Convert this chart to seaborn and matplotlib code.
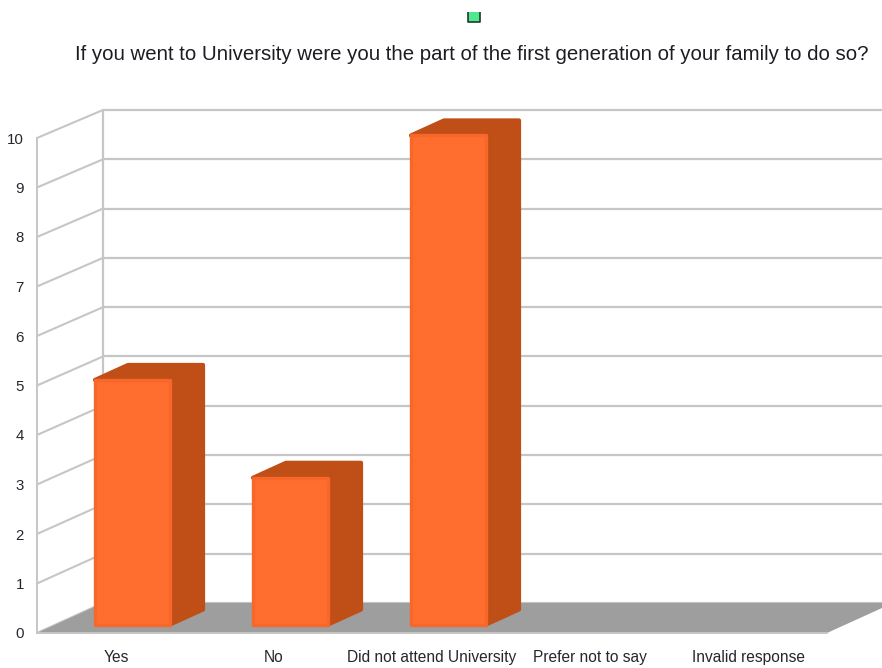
import matplotlib
matplotlib.use("Agg")
import matplotlib.pyplot as plt
import seaborn as sns
import pandas as pd
from matplotlib.lines import Line2D
from matplotlib.patches import Polygon, Rectangle
from matplotlib.transforms import Affine2D, Bbox, IdentityTransform

title = "If you went to University were you the part of the first generation of your family to do so?"
categories = ["Yes", "No", "Did not attend University", "Prefer not to say", "Invalid response"]
values = [5, 3, 10, 0, 0]
y_ticks = list(range(0, 11))

FACE = "#ff6d2f"
EDGE = "#f66729"
DARK = "#c04e17"
FLOOR = "#9e9e9e"
GRID = "#c6c6c6"
TEXT = "#262630"

sns.set_theme(style="white")
plt.rcParams["font.family"] = ["Liberation Sans", "DejaVu Sans"]

W, H = 882, 668
fig = plt.figure(figsize=(W / 100, H / 100), dpi=100, facecolor="white")
ax = fig.add_axes([37 / W, 35 / H, 790 / W, 495 / H])
ax.set_facecolor("none")

df = pd.DataFrame({"category": categories, "value": values})
sns.barplot(data=df, x="category", y="value", order=categories, color=FACE,
            saturation=1, width=0.475, ax=ax, zorder=6, legend=False)
ax.set_xlim(-0.5, 4.5)
ax.set_ylim(0, 10)
ax.set_xlabel("")
ax.set_ylabel("")
ax.set_yticks(y_ticks)
for s in ax.spines.values():
    s.set_visible(False)
ax.tick_params(axis="y", length=0, pad=9.5, labelsize=10.8, labelcolor=TEXT)
ax.tick_params(axis="x", length=0, pad=12, labelsize=11.2, labelcolor=TEXT)
fig.canvas.draw()


def plane(depth, k=1.0, lift=0.0):
    """Data transform of a plane `depth` of the way from front to back of the box."""
    return ax.transData + Affine2D().translate(0, -35).scale(1, k).translate(
        66 * depth, 35 + 30 * depth + lift)


front, back = plane(0), plane(1, 0.996)
bar_f, bar_b = plane(0.25, 0.988, 1.0), plane(0.75, 0.988, 1.0)
identity = IdentityTransform()

# back wall grid lines
ax.hlines(y_ticks, -0.5, 4.5, colors=GRID, lw=1.6, transform=back, clip_on=False, zorder=1)
# side wall lines
for v in y_ticks:
    p0, p1 = front.transform((-0.5, v)), back.transform((-0.5, v))
    ax.add_line(Line2D([p0[0], p1[0]], [p0[1], p1[1]], color=GRID, lw=1.5,
                       transform=identity, clip_on=False, zorder=1))
# wall edges
ax.plot([-0.5, -0.5], [0, 10], color=GRID, lw=1.4, transform=front, clip_on=False, zorder=2)
ax.plot([-0.5, -0.5], [0, 10], color=GRID, lw=1.6, transform=back, clip_on=False, zorder=2)

# floor
corners = [front.transform((-0.5, 0)), back.transform((-0.5, 0)),
           back.transform((4.5, 0)), front.transform((4.5, 0))]
ax.add_patch(Polygon(corners, closed=True, facecolor=FLOOR, edgecolor="none",
                     transform=identity, clip_on=False, zorder=3))
ax.plot([-0.5, 4.5], [0, 0], color=GRID, lw=1.4, transform=front, clip_on=False, zorder=4)

# bars: depth faces behind, seaborn front face on top
for bar in ax.containers[0]:
    h = bar.get_height()
    if h <= 0:
        bar.set_visible(False)
        continue
    x0, x1 = bar.get_x(), bar.get_x() + bar.get_width()
    hull = [bar_f.transform((x0, h)), bar_b.transform((x0, h)), bar_b.transform((x1, h)),
            bar_b.transform((x1, 0)), bar_f.transform((x1, 0)), bar_f.transform((x1, h))]
    ax.add_patch(Polygon(hull, closed=True, facecolor=DARK, edgecolor=DARK, lw=3.0,
                         joinstyle="round", transform=identity, clip_on=False, zorder=5))
    bar.set_transform(bar_f)
    bar.set_clip_on(False)
    bar.set_edgecolor(EDGE)
    bar.set_linewidth(2.4)
    bar.set_joinstyle("round")

fig.suptitle(title, x=472 / W, y=1 - 55 / H, ha="center", va="center",
             fontsize=14.7, color="#1c1c24")

# small green marker cut by the top of the picture
marker = Rectangle((468, H - 22), 12, 16, facecolor="#4ee88f", edgecolor="#1f3a2a", lw=1.2,
                   joinstyle="round", transform=identity)
fig.add_artist(marker)
marker.set_clip_box(Bbox([[460, H - 30], [490, H - 12]]))

fig.savefig("out.png", dpi=100, facecolor="white")
